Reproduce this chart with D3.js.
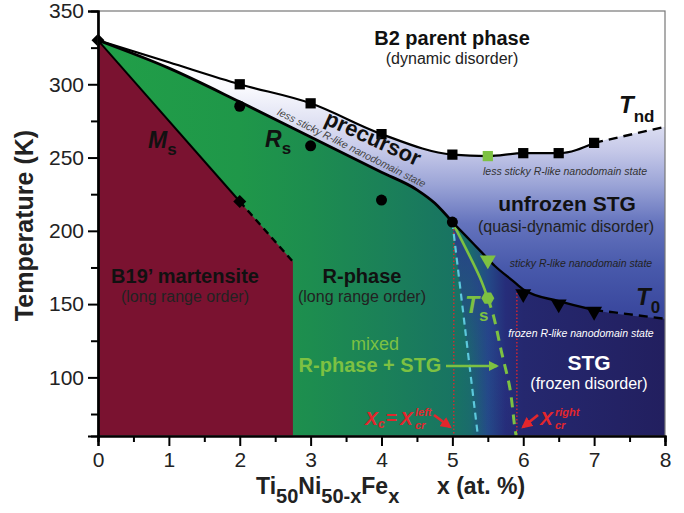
<!DOCTYPE html>
<html><head><meta charset="utf-8">
<script src="https://cdn.jsdelivr.net/npm/d3@7"></script>
<style>
body{margin:0;background:#fff}
svg{display:block}
text{font-family:"Liberation Sans",Arial,Helvetica,sans-serif}
</style>
</head><body>
<svg id="chart" width="684" height="513"></svg>
<script>
// ---------- data ----------
const xTicks = [0,1,2,3,4,5,6,7,8];
const yTicks = [100,150,200,250,300,350];
// T_nd boundary (upper precursor line)
const tndX = [0,1,2,3,4,5,5.5,6,6.5,7];
const tndT = [330,315,300,287,266,252,251,253,253,260];
const tndExtX = [7,8];
const tndExtT = [260,271];
// T_nd markers
const sqX = [2,3,4,5,6,6.5,7];
const sqT = [300,287,266,252,253,253,260];
const sqGreenX = [5.5];
const sqGreenT = [251];
// lower precursor boundary
const rsLineX = [0,1,2,3,4,4.5,4.75,5];
const rsLineT = [330,311,288,264,240,228,219,206];
// R_s markers
const rsX = [2,3,4,5];
const rsT = [285,258,221,206];
// T0 line
const t0X = [5,5.2,5.4,5.6,5.85,6,6.5,7];
const t0T = [206,196,186,176,166,160,152,146];
const t0ExtX = [7,8];
const t0ExtT = [146,140];
const t0mX = [6,6.5,7];
const t0mT = [157,150,145];
const stickyX = [5.5];
const stickyT = [180];
// M_s
const msX = [0,2];
const msT = [330,220];
const msDashX = [2,2.75];
const msDashT = [220,179];
// T_s
const tsX = [5,5.2,5.39,5.5];
const tsT = [206,187,168,154];
const tsDashX = [5.5,5.58,5.69,5.81,5.88,5.9];
const tsDashT = [154,142,118,93,66,60];
// cyan boundary
const cyX = [5,5.18,5.36];
const cyT = [206,133,60];
// critical compositions
const xcLeft = 5.02, xcLeftTop = 206;
const xcRight = 5.91, xcRightTop = 160;
const tMin = 60, tMax = 350;

// ---------- setup ----------
const svg = d3.select('#chart');
const x = d3.scaleLinear().domain([0,8]).range([98,665]);
const y = d3.scaleLinear().domain([tMin,tMax]).range([436,11]);
const zip = (a,b) => a.map((v,i)=>[v,b[i]]);
const line = d3.line().x(d=>x(d[0])).y(d=>y(d[1]));
const mline = d3.line().x(d=>x(d[0])).y(d=>y(d[1])).curve(d3.curveMonotoneX);
const cline = d3.line().x(d=>x(d[0])).y(d=>y(d[1])).curve(d3.curveCatmullRom);

const defs = svg.append('defs');
const clip = defs.append('clipPath').attr('id','plotclip');
clip.append('rect').attr('x',x(0)).attr('y',y(tMax)).attr('width',x(8)-x(0)).attr('height',y(tMin)-y(tMax));

// vertical gradient for the blue (STG) area
const gUp = defs.append('linearGradient').attr('id','gUp').attr('gradientUnits','userSpaceOnUse')
  .attr('x1',0).attr('x2',0).attr('y1',y(330)).attr('y2',y(60));
[[330,'#ffffff'],[298,'#fafafe'],[275,'#e0e2f3'],[255,'#c6c9e9'],[232,'#9ca5d7'],[205,'#6473bd'],[175,'#4859ab'],[145,'#3a489e'],[60,'#2c3585']]
 .forEach(([t,c])=>gUp.append('stop').attr('offset',(y(t)-y(330))/(y(60)-y(330))).attr('stop-color',c));

// horizontal gradient for the R-phase / frozen STG area
const gLow = defs.append('linearGradient').attr('id','gLow').attr('gradientUnits','userSpaceOnUse')
  .attr('x1',x(0)).attr('x2',x(8)).attr('y1',0).attr('y2',0);
[[0,'#219f48'],[2,'#1f9749'],[3,'#1d8d4f'],[4,'#1b8158'],[5,'#187462'],[5.25,'#1a6b6c'],[5.5,'#244a88'],[5.75,'#262d7a'],[6,'#25286f'],[8,'#221f5f']]
 .forEach(([v,c])=>gLow.append('stop').attr('offset',v/8).attr('stop-color',c));

const plot = svg.append('g').attr('clip-path','url(#plotclip)');

// upper blue area (under T_nd incl. extension)
const tndAll = zip(tndX,tndT).concat([[tndExtX[1],tndExtT[1]]]);
const areaUp = d3.area().x(d=>x(d[0])).y0(y(tMin)).y1(d=>y(d[1])).curve(d3.curveMonotoneX);
plot.append('path').attr('d',areaUp(tndAll)).attr('fill','url(#gUp)');

// lower area (under R_s line + T0)
const lowAll = zip(rsLineX,rsLineT).concat(zip(t0X,t0T).slice(1)).concat([[t0ExtX[1],t0ExtT[1]]]);
plot.append('path').attr('d',areaUp(lowAll)).attr('fill','url(#gLow)');

// darken top of the mixed zone
const gMix = defs.append('linearGradient').attr('id','gMix').attr('gradientUnits','userSpaceOnUse')
  .attr('x1',0).attr('x2',0).attr('y1',y(200)).attr('y2',y(60));
gMix.append('stop').attr('offset',0).attr('stop-color','#2a3a8e').attr('stop-opacity',0.85);
gMix.append('stop').attr('offset',0.55).attr('stop-color','#2a3a8e').attr('stop-opacity',0.25);
gMix.append('stop').attr('offset',1).attr('stop-color','#2a3a8e').attr('stop-opacity',0);
const mixPoly = zip(tsX,tsT).concat(tsDashX.map((v,i)=>[v,tsDashT[i]]).slice(1)).concat([[cyX[2],cyT[2]],[cyX[1],cyT[1]]]);
plot.append('path').attr('d',d3.line().x(d=>x(d[0])).y(d=>y(d[1])).curve(d3.curveLinearClosed)(mixPoly))
  .attr('fill','url(#gMix)');

// martensite area
const mart = zip(msX,msT).concat([[msDashX[1],msDashT[1]],[msDashX[1],tMin],[0,tMin]]);
plot.append('path').attr('d',line(mart)+'Z').attr('fill','#7a1230');

// red dotted critical lines
[[xcLeft,xcLeftTop],[xcRight,xcRightTop]].forEach(([xv,tv])=>{
  plot.append('line').attr('x1',x(xv)).attr('x2',x(xv)).attr('y1',y(tv)).attr('y2',y(tMin))
   .attr('stroke','#e3262c').attr('stroke-width',1.3).attr('stroke-dasharray','1.5,2');
});

// cyan dashed
plot.append('path').attr('d',cline(zip(cyX,cyT))).attr('fill','none')
  .attr('stroke','#5cc8dc').attr('stroke-width',2.2).attr('stroke-dasharray','7,5');

// T_s lines
plot.append('path').attr('d',cline(zip(tsX,tsT))).attr('fill','none').attr('stroke','#7dc142').attr('stroke-width',2.6);
plot.append('path').attr('d',cline(zip(tsDashX,tsDashT))).attr('fill','none').attr('stroke','#7dc142')
  .attr('stroke-width',3).attr('stroke-dasharray','10,7');

// black boundary lines
plot.append('path').attr('d',mline(zip(tndX,tndT))).attr('fill','none').attr('stroke','#000').attr('stroke-width',2.2);
plot.append('path').attr('d',line(zip(tndExtX,tndExtT))).attr('fill','none').attr('stroke','#000').attr('stroke-width',2.4).attr('stroke-dasharray','9,6');
plot.append('path').attr('d',mline(zip(rsLineX,rsLineT))).attr('fill','none').attr('stroke','#000').attr('stroke-width',2.8);
plot.append('path').attr('d',mline(zip(t0X,t0T))).attr('fill','none').attr('stroke','#000').attr('stroke-width',2.4);
plot.append('path').attr('d',line(zip(t0ExtX,t0ExtT))).attr('fill','none').attr('stroke','#000').attr('stroke-width',2.4).attr('stroke-dasharray','9,6');
plot.append('path').attr('d',line(zip(msX,msT))).attr('fill','none').attr('stroke','#000').attr('stroke-width',2);
plot.append('path').attr('d',line(zip(msDashX,msDashT))).attr('fill','none').attr('stroke','#000').attr('stroke-width',2.4).attr('stroke-dasharray','7,5');

// markers
const sym = (type,size)=>d3.symbol().type(type).size(size)();
const markers = svg.append('g');
zip(sqX,sqT).forEach(d=>markers.append('path').attr('d',sym(d3.symbolSquare,105)).attr('transform',`translate(${x(d[0])},${y(d[1])})`).attr('fill','#000'));
zip(sqGreenX,sqGreenT).forEach(d=>markers.append('path').attr('d',sym(d3.symbolSquare,105)).attr('transform',`translate(${x(d[0])},${y(d[1])})`).attr('fill','#7dc142'));
zip(rsX,rsT).forEach(d=>markers.append('circle').attr('cx',x(d[0])).attr('cy',y(d[1])).attr('r',5.5).attr('fill','#000'));
zip(msX,msT).forEach(d=>markers.append('path').attr('d',sym(d3.symbolSquare,85)).attr('transform',`translate(${x(d[0])},${y(d[1])}) rotate(45)`).attr('fill','#000'));
zip(t0mX,t0mT).forEach(d=>markers.append('path').attr('d',sym(d3.symbolTriangle,110)).attr('transform',`translate(${x(d[0])},${y(d[1])}) rotate(180)`).attr('fill','#000'));
zip(stickyX,stickyT).forEach(d=>markers.append('path').attr('d',sym(d3.symbolTriangle,110)).attr('transform',`translate(${x(d[0])},${y(d[1])}) rotate(180)`).attr('fill','#7dc142'));
zip([tsX[tsX.length-1]],[tsT[tsT.length-1]]).forEach(d=>{
  const r=6.5, pts=d3.range(6).map(i=>[x(d[0])+r*Math.cos(Math.PI/3*i), y(d[1])+r*Math.sin(Math.PI/3*i)]);
  markers.append('polygon').attr('points',pts.map(p=>p.join(',')).join(' ')).attr('fill','#7dc142');
});

// ---------- frame and axes ----------
svg.append('rect').attr('x',x(0)).attr('y',y(tMax)).attr('width',x(8)-x(0)).attr('height',y(tMin)-y(tMax))
  .attr('fill','none').attr('stroke','#777').attr('stroke-width',1.2);

const xAxis = svg.append('g').attr('transform',`translate(0,${y(tMin)})`)
  .call(d3.axisBottom(x).tickValues(xTicks).tickFormat(d3.format('d')).tickSize(10).tickPadding(6));
const xMinor = svg.append('g').attr('transform',`translate(0,${y(tMin)})`)
  .call(d3.axisBottom(x).tickValues(d3.range(0.5,8,1)).tickFormat('').tickSize(6));
const yAxis = svg.append('g').attr('transform',`translate(${x(0)},0)`)
  .call(d3.axisLeft(y).tickValues(yTicks).tickSize(10).tickPadding(4));
const yMinor = svg.append('g').attr('transform',`translate(${x(0)},0)`)
  .call(d3.axisLeft(y).tickValues([75,125,175,225,275,325]).tickFormat('').tickSize(7));
[xAxis,xMinor,yAxis,yMinor].forEach(g=>{
  g.selectAll('path.domain').attr('stroke','#000').attr('stroke-width',2.2);
  g.selectAll('.tick line').attr('stroke','#000').attr('stroke-width',2);
  g.selectAll('.tick text').attr('font-size',21).attr('fill','#222').attr('font-family','"Liberation Sans",Arial,sans-serif');
});

// axis titles
svg.append('text').attr('transform',`translate(33,${(y(tMin)+y(tMax))/2+2}) rotate(-90)`)
  .attr('text-anchor','middle').attr('font-weight','bold').attr('font-size',25).attr('fill','#222').text('Temperature (K)');
const xt = svg.append('text').attr('x',256).attr('y',494).attr('font-weight','bold').attr('font-size',23).attr('fill','#222');
xt.append('tspan').text('Ti');
xt.append('tspan').attr('dy',9).attr('font-size',20).text('50');
xt.append('tspan').attr('dy',-9).text('Ni');
xt.append('tspan').attr('dy',9).attr('font-size',20).text('50-x');
xt.append('tspan').attr('dy',-9).text('Fe');
xt.append('tspan').attr('dy',9).attr('font-size',20).text('x');
svg.append('text').attr('x',437).attr('y',494).attr('font-weight','bold').attr('font-size',23).attr('fill','#222').text('x (at. %)');

// ---------- annotations ----------
const ann = svg.append('g');
function label(tx,ty,str,opt={}){
  const t = ann.append('text').attr('x',tx).attr('y',ty).attr('text-anchor',opt.anchor||'middle')
    .attr('font-size',opt.size||16).attr('fill',opt.color||'#111').text(str);
  if(opt.bold) t.attr('font-weight','bold');
  if(opt.italic) t.attr('font-style','italic');
  if(opt.rotate!==undefined) t.attr('transform',`rotate(${opt.rotate},${tx},${ty})`);
  return t;
}
function subLabel(tx,ty,main,sub,opt={}){
  const t = ann.append('text').attr('x',tx).attr('y',ty).attr('font-weight','bold').attr('fill',opt.color||'#111').attr('font-size',opt.size||22);
  t.append('tspan').attr('font-style','italic').text(main);
  t.append('tspan').attr('dy',opt.dy||8).attr('font-size',opt.subSize||15).text(sub);
  return t;
}
label(452,45,'B2 parent phase',{bold:true,size:20,color:'#111'});
label(452,64,'(dynamic disorder)',{size:16,color:'#222'});
subLabel(619,113,'T','nd',{size:24,subSize:17,dy:9});
label(350,151,'less sticky R-like nanodomain state',{italic:true,size:10.5,color:'#444',rotate:26.5});
label(370,145,'precursor',{bold:true,size:22,rotate:24.5});
label(565,175,'less sticky R-like nanodomain state',{italic:true,size:10.5,color:'#333'});
label(567,211,'unfrozen STG',{bold:true,size:21});
label(566,232,'(quasi-dynamic disorder)',{size:16,color:'#222'});
label(581,267,'sticky R-like nanodomain state',{italic:true,size:10.5,color:'#222'});
subLabel(636,305,'T','0',{size:24,subSize:17,dy:8});
label(581,337,'frozen R-like nanodomain state',{italic:true,size:10.5,color:'#fff'});
label(589,370,'STG',{bold:true,size:21,color:'#fff'});
label(589,389,'(frozen disorder)',{size:16,color:'#fff'});
subLabel(148,148,'M','s',{size:23,subSize:17,dy:7});
subLabel(265,147,'R','s',{size:23,subSize:17,dy:7});
label(185,283,'B19\u2019 martensite',{bold:true,size:20});
label(185,302,'(long range order)',{size:16,color:'#222'});
label(362,283,'R-phase',{bold:true,size:20});
label(362,302,'(long range order)',{size:16,color:'#222'});
subLabel(465,313,'T','s',{size:23,subSize:17,dy:8,color:'#7dc142'});
label(375,350,'mixed',{size:18,color:'#7dc142'});
label(370,372,'R-phase + STG',{bold:true,size:20,color:'#7dc142'});

// arrows
const mk = (id,color)=>defs.append('marker').attr('id',id).attr('viewBox','0 0 10 10').attr('refX',8).attr('refY',5)
  .attr('markerWidth',4).attr('markerHeight',4).attr('orient','auto')
  .append('path').attr('d','M0,0L10,5L0,10z').attr('fill',color);
mk('agreen','#7dc142'); mk('ared','#e3262c');
ann.append('line').attr('x1',446).attr('y1',366).attr('x2',497).attr('y2',366).attr('stroke','#7dc142').attr('stroke-width',2.5).attr('marker-end','url(#agreen)');
ann.append('line').attr('x1',434).attr('y1',415).attr('x2',450).attr('y2',427).attr('stroke','#e3262c').attr('stroke-width',2.8).attr('marker-end','url(#ared)');
ann.append('line').attr('x1',538).attr('y1',415).attr('x2',523).attr('y2',427).attr('stroke','#e3262c').attr('stroke-width',2.8).attr('marker-end','url(#ared)');

// X_c = X_cr^left  and  X_cr^right
const red='#e3262c';
function redText(tx,ty,str,size,italic){
  const t = ann.append('text').attr('x',tx).attr('y',ty).attr('fill',red).attr('font-weight','bold').attr('font-size',size).text(str);
  if(italic) t.attr('font-style','italic');
  return t;
}
redText(365,425,'X',19,true);
redText(378,428,'c',12,true);
redText(386,424,'=',19,false);
redText(400,425,'X',19,true);
redText(415,416,'left',11,true);
redText(415,429,'cr',11,true);
redText(540,425,'X',19,true);
redText(555,416,'right',11,true);
redText(555,429,'cr',11,true);
</script>
</body></html>
